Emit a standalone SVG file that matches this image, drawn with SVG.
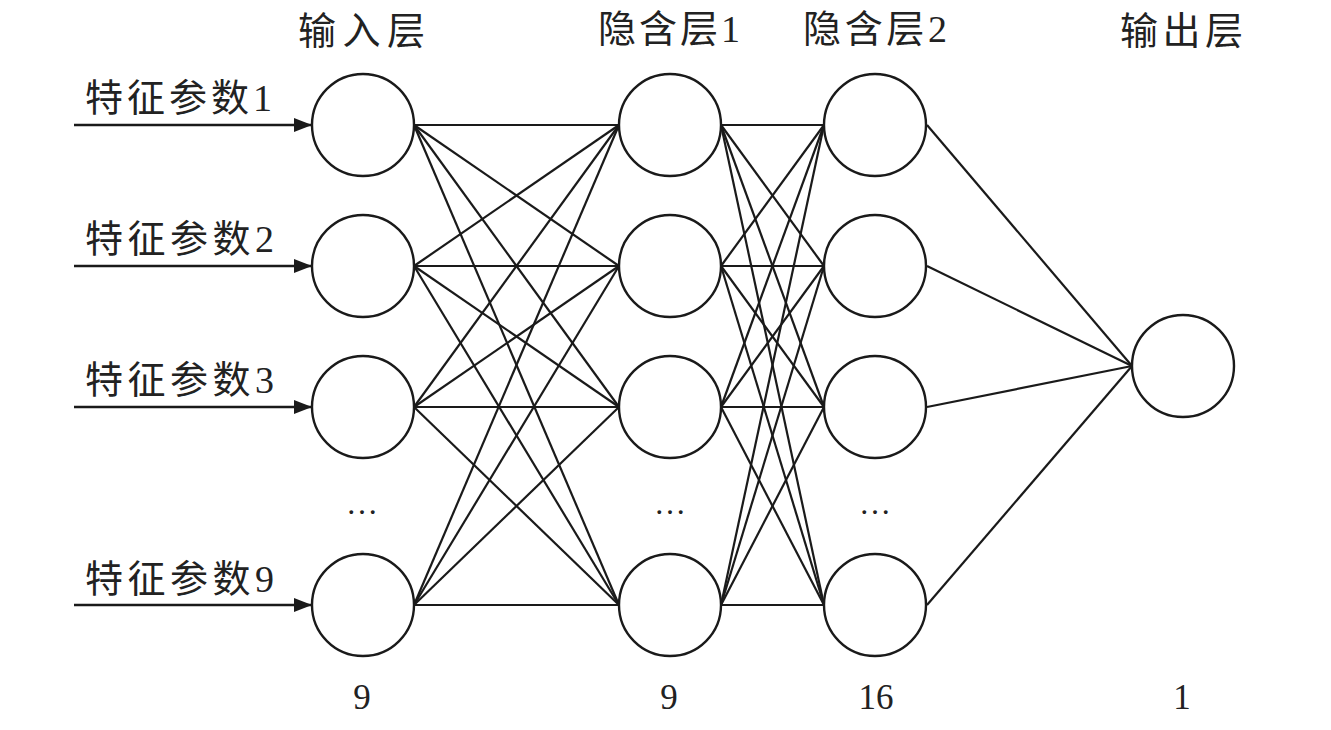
<svg xmlns="http://www.w3.org/2000/svg" width="1331" height="730" viewBox="0 0 1331 730">
<style>
.n{fill:#fff;stroke:#1a1a1a;stroke-width:2.4}
.c line{stroke:#1a1a1a;stroke-width:2.2}
.t{font-family:"Liberation Serif","Noto Sans CJK SC",serif;fill:#222;font-size:38px}
.num{font-family:"Liberation Serif",serif;fill:#222;font-size:35px;text-anchor:middle}
.dots{font-family:"Liberation Serif",serif;fill:#222;font-size:32px;text-anchor:middle}
</style>
<defs>
<marker id="arr" markerWidth="18" markerHeight="14" refX="18" refY="7" orient="auto" markerUnits="userSpaceOnUse">
<path d="M0,0 L18,7 L0,14 Z" fill="#1a1a1a"/>
</marker>
</defs>
<rect width="1331" height="730" fill="#fff"/>
<g id="titles">
<text class="t" x="298" y="44" textLength="127" lengthAdjust="spacing">输入层</text>
<text class="t" x="598" y="42" textLength="142" lengthAdjust="spacing">隐含层1</text>
<text class="t" x="803" y="42" textLength="144" lengthAdjust="spacing">隐含层2</text>
<text class="t" x="1120" y="44" textLength="123" lengthAdjust="spacing">输出层</text>
</g>
<g id="inputs">
<text class="t" x="85" y="111" textLength="187" lengthAdjust="spacing">特征参数1</text>
<text class="t" x="85" y="252" textLength="189" lengthAdjust="spacing">特征参数2</text>
<text class="t" x="85" y="393" textLength="189" lengthAdjust="spacing">特征参数3</text>
<text class="t" x="85" y="592" textLength="189" lengthAdjust="spacing">特征参数9</text>
<line x1="74" y1="125" x2="312" y2="125" stroke="#1a1a1a" stroke-width="2.4" marker-end="url(#arr)"/>
<line x1="74" y1="266" x2="312" y2="266" stroke="#1a1a1a" stroke-width="2.4" marker-end="url(#arr)"/>
<line x1="74" y1="407" x2="312" y2="407" stroke="#1a1a1a" stroke-width="2.4" marker-end="url(#arr)"/>
<line x1="74" y1="605" x2="312" y2="605" stroke="#1a1a1a" stroke-width="2.4" marker-end="url(#arr)"/>
</g>
<g class="c" id="connectors">
<line x1="414" y1="125" x2="619" y2="125"/><line x1="414" y1="125" x2="619" y2="266"/><line x1="414" y1="125" x2="619" y2="407"/><line x1="414" y1="125" x2="619" y2="605"/>
<line x1="414" y1="266" x2="619" y2="125"/><line x1="414" y1="266" x2="619" y2="266"/><line x1="414" y1="266" x2="619" y2="407"/><line x1="414" y1="266" x2="619" y2="605"/>
<line x1="414" y1="407" x2="619" y2="125"/><line x1="414" y1="407" x2="619" y2="266"/><line x1="414" y1="407" x2="619" y2="407"/><line x1="414" y1="407" x2="619" y2="605"/>
<line x1="414" y1="605" x2="619" y2="125"/><line x1="414" y1="605" x2="619" y2="266"/><line x1="414" y1="605" x2="619" y2="407"/><line x1="414" y1="605" x2="619" y2="605"/>
<line x1="721" y1="125" x2="824" y2="125"/><line x1="721" y1="125" x2="824" y2="266"/><line x1="721" y1="125" x2="824" y2="407"/><line x1="721" y1="125" x2="824" y2="605"/>
<line x1="721" y1="266" x2="824" y2="125"/><line x1="721" y1="266" x2="824" y2="266"/><line x1="721" y1="266" x2="824" y2="407"/><line x1="721" y1="266" x2="824" y2="605"/>
<line x1="721" y1="407" x2="824" y2="125"/><line x1="721" y1="407" x2="824" y2="266"/><line x1="721" y1="407" x2="824" y2="407"/><line x1="721" y1="407" x2="824" y2="605"/>
<line x1="721" y1="605" x2="824" y2="125"/><line x1="721" y1="605" x2="824" y2="266"/><line x1="721" y1="605" x2="824" y2="407"/><line x1="721" y1="605" x2="824" y2="605"/>
<line x1="927" y1="125" x2="1132" y2="366"/><line x1="927" y1="266" x2="1132" y2="366"/><line x1="927" y1="407" x2="1132" y2="366"/><line x1="927" y1="605" x2="1132" y2="366"/>
</g>
<g id="layer-input">
<circle class="n" cx="363" cy="125" r="51"/>
<circle class="n" cx="363" cy="266" r="51"/>
<circle class="n" cx="363" cy="407" r="51"/>
<circle class="n" cx="363" cy="605" r="51"/>
<text class="dots" x="362" y="514">…</text>
<text class="num" x="362" y="709">9</text>
</g>
<g id="layer-hidden1">
<circle class="n" cx="670" cy="125" r="51"/>
<circle class="n" cx="670" cy="266" r="51"/>
<circle class="n" cx="670" cy="407" r="51"/>
<circle class="n" cx="670" cy="605" r="51"/>
<text class="dots" x="670" y="514">…</text>
<text class="num" x="669" y="709">9</text>
</g>
<g id="layer-hidden2">
<circle class="n" cx="875" cy="125" r="51"/>
<circle class="n" cx="875" cy="266" r="51"/>
<circle class="n" cx="875" cy="407" r="51"/>
<circle class="n" cx="875" cy="605" r="51"/>
<text class="dots" x="875" y="514">…</text>
<text class="num" x="876" y="709">16</text>
</g>
<g id="layer-output">
<circle class="n" cx="1183" cy="366" r="51"/>
<text class="num" x="1182" y="709">1</text>
</g>
</svg>
